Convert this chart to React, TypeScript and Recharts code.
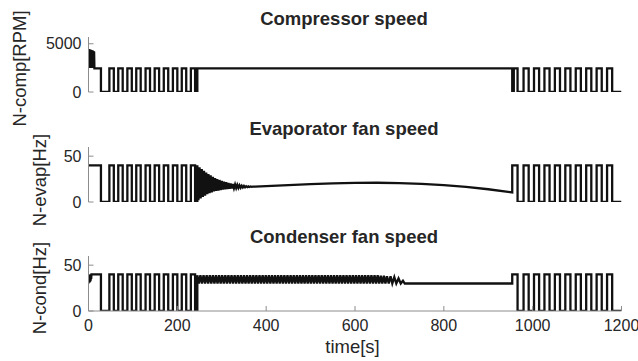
import React from 'react';
import { LineChart, Line, XAxis, YAxis, Label } from 'recharts';

type Pt = [number, number];

// ---------- axes ----------
const timeTicks = [0, 200, 400, 600, 800, 1000, 1200];
const compTicks = [0, 5000];
const fanTicks = [0, 50];
const compMax = 5700;
const fanMax = 60;

// ---------- shared on/off switching schedule (s) ----------
const startOn = [47, 67, 87.5, 107.5, 128.5, 149, 169.5, 190, 210, 230.5];
const startOff = [57, 77, 97.5, 117.5, 138.5, 159, 179.5, 200, 220, 240];
const endOn = [954, 979.5, 1003, 1026.5, 1050, 1073.5, 1097, 1120.5, 1144, 1167.5];
const endOff = [966, 991, 1014.5, 1038, 1061.5, 1085, 1108.5, 1132, 1155.5, 1179];

// ---------- compressor speed [RPM] ----------
const compOn = 2450;
const compRestart = 957.5;
const compStart: Pt[] = [
  [0, 4450], [0.7, 2500], [1.4, 4450], [2.1, 2500], [2.8, 4400], [3.5, 2500], [4.2, 4400],
  [4.9, 2500], [5.6, 4350], [6.3, 2500], [7, 4350], [7.7, 2500], [8.4, 4300], [9.1, 2500],
  [9.8, 4300], [10.5, 2500], [11.2, 4250], [11.9, 2500], [12.6, 4200], [13.3, 2450], [28, 2450],
];

// ---------- evaporator fan speed [Hz] ----------
const fanOn = 40;
const evapStart: Pt[] = [[0, 40], [28, 40]];
const evapDamped: Pt[] = [
  [245, 40], [247.5, 2], [250, 38], [252.5, 4], [255, 36], [257.5, 5.5], [260, 34], [262.5, 7],
  [265, 32], [267.5, 8.5], [270, 30.5], [272.5, 9.5], [275, 29], [277.5, 10.5], [280, 27.5],
  [282.5, 11.5], [285, 26], [287.5, 12], [290, 25], [292.5, 12.5], [295, 24], [297.5, 13],
  [300, 23], [302.5, 13.5], [305, 22.2], [307.5, 13.8], [310, 21.5], [312.5, 14.1], [315, 20.8],
  [317.5, 14.4], [320, 20.2], [322.5, 14.7], [325, 19.6], [327.5, 15], [330, 19.1], [332.5, 15.2],
  [335, 18.6], [337.5, 15.4], [340, 18.2], [342.5, 15.6], [345, 17.8], [347.5, 15.8], [350, 17.5],
  [352.5, 16], [355, 17.2], [357.5, 16.2], [360, 17], [362.5, 16.4], [365, 16.9], [367.5, 16.6],
  [370, 16.8], [375, 16.8],
];
const evapDrift: Pt[] = [
  [400, 17.4], [450, 18.5], [500, 19.6], [550, 20.4], [600, 20.9], [650, 21],
  [700, 20.6], [750, 19.7], [800, 18.3], [850, 16.4], [900, 13.9], [954, 10.5],
];

// ---------- condenser fan speed [Hz] ----------
const condStart: Pt[] = [
  [0, 30], [0.6, 39], [1.2, 31], [1.8, 39], [2.4, 31], [3, 39.5], [3.6, 32], [4.2, 40],
  [4.8, 33], [5.4, 40], [6, 35], [6.6, 40], [28, 40],
];
const condWave: Pt[] = [
  [245, 39], [248.5, 30], [252, 39], [255.5, 30], [259, 39], [262.5, 30], [266, 39], [269.5, 30], [273, 39], [276.5, 30],
  [280, 39], [283.5, 30], [287, 39], [290.5, 30], [294, 39], [297.5, 30], [301, 39], [304.5, 30], [308, 39], [311.5, 30],
  [315, 39], [318.5, 30], [322, 39], [325.5, 30], [329, 39], [332.5, 30], [336, 39], [339.5, 30], [343, 39], [346.5, 30],
  [350, 39], [353.5, 30], [357, 39], [360.5, 30], [364, 39], [367.5, 30], [371, 39], [374.5, 30], [378, 39], [381.5, 30],
  [385, 39], [388.5, 30], [392, 39], [395.5, 30], [399, 39], [402.5, 30], [406, 39], [409.5, 30], [413, 39], [416.5, 30],
  [420, 39], [423.5, 30], [427, 39], [430.5, 30], [434, 39], [437.5, 30], [441, 39], [444.5, 30], [448, 39], [451.5, 30],
  [455, 39], [458.5, 30], [462, 39], [465.5, 30], [469, 39], [472.5, 30], [476, 39], [479.5, 30], [483, 39], [486.5, 30],
  [490, 39], [493.5, 30], [497, 39], [500.5, 30], [504, 39], [507.5, 30], [511, 39], [514.5, 30], [518, 39], [521.5, 30],
  [525, 39], [528.5, 30], [532, 39], [535.5, 30], [539, 39], [542.5, 30], [546, 39], [549.5, 30], [553, 39], [556.5, 30],
  [560, 39], [563.5, 30], [567, 39], [570.5, 30], [574, 39], [577.5, 30], [581, 39], [584.5, 30], [588, 39], [591.5, 30],
  [595, 39], [598.5, 30], [602, 39], [605.5, 30], [609, 39], [612.5, 30], [616, 39], [619.5, 30], [623, 39], [626.5, 30],
  [630, 39], [633.5, 30], [637, 39], [640.5, 30], [644, 39], [647.5, 30], [651, 39], [654.5, 30], [658, 38.5], [661.5, 30],
  [665, 38.5], [668.5, 30], [672, 38], [676, 30], [680, 38], [684, 30], [688.5, 37], [693, 30], [698, 35.5], [703, 30],
  [708, 33], [712, 30],
];
const condHold = 30;

// ---------- table building ----------
function pulseTrain(on: number[], off: number[], level: number): Pt[] {
  const out: Pt[] = [];
  on.forEach((t, i) => {
    out.push([t, 0], [t, level], [off[i], level], [off[i], 0]);
  });
  return out;
}
const toRows = (pts: Pt[]) => pts.map(([t, v]) => ({ t, v }));

const compData = toRows([
  ...compStart,
  [28, 0],
  ...pulseTrain(startOn, startOff, compOn),
  [245, 0], [245, compOn], [954, compOn], [954, 0],
  ...pulseTrain([compRestart, ...endOn.slice(1)], endOff, compOn),
  [1200, 0],
]);

const evapData = toRows([
  ...evapStart,
  [28, 0],
  ...pulseTrain(startOn, startOff, fanOn),
  [245, 0],
  ...evapDamped,
  ...evapDrift,
  [endOn[0], fanOn], [endOff[0], fanOn], [endOff[0], 0],
  ...pulseTrain(endOn.slice(1), endOff.slice(1), fanOn),
  [1200, 0],
]);

const condData = toRows([
  ...condStart,
  [28, 0],
  ...pulseTrain(startOn, startOff, fanOn),
  [245, 0],
  ...condWave,
  [endOn[0], condHold], [endOn[0], fanOn], [endOff[0], fanOn], [endOff[0], 0],
  ...pulseTrain(endOn.slice(1), endOff.slice(1), fanOn),
  [1200, 0],
]);

// ---------- styling ----------
const AXIS = '#8c8c8c';
const TEXT = '#262626';
const LINE = '#111111';
const FONT = "'Liberation Sans', Arial, Helvetica, sans-serif";
const W = 638;
const H = 361;

type PanelProps = {
  data: { t: number; v: number }[];
  mTop: number;
  mBottom: number;
  yMax: number;
  yTicks: number[];
  label: string;
  labelX: number;
  labelY: number;
  bottom?: boolean;
};

function Panel({ data, mTop, mBottom, yMax, yTicks, label, labelX, labelY, bottom }: PanelProps) {
  return (
    <div style={{ position: 'absolute', left: 0, top: 0 }}>
      <LineChart width={W} height={H} margin={{ top: mTop, right: 16.5, bottom: mBottom, left: 28.5 }}>
        <XAxis
          type="number"
          dataKey="t"
          domain={[0, 1200]}
          ticks={timeTicks}
          interval={0}
          allowDataOverflow
          height={bottom ? 30 : 0}
          tick={bottom ? { fill: TEXT, fontSize: 16, fontFamily: FONT } : false}
          tickSize={-5}
          tickMargin={14}
          axisLine={{ stroke: AXIS, strokeWidth: 1 }}
          tickLine={{ stroke: AXIS, strokeWidth: 1 }}
        >
          {bottom ? (
            <Label
              content={() => (
                <text x={352.5} y={352.5} textAnchor="middle" fill={TEXT} fontSize={18.5} fontFamily={FONT}>
                  time[s]
                </text>
              )}
            />
          ) : null}
        </XAxis>
        <YAxis
          type="number"
          domain={[0, yMax]}
          ticks={yTicks}
          interval={0}
          width={60}
          allowDataOverflow
          tick={{ fill: TEXT, fontSize: 16, fontFamily: FONT }}
          tickSize={-5}
          tickMargin={12}
          axisLine={{ stroke: AXIS, strokeWidth: 1 }}
          tickLine={{ stroke: AXIS, strokeWidth: 1 }}
        >
          <Label
            content={() => (
              <text
                x={labelX}
                y={labelY}
                transform={`rotate(-90 ${labelX} ${labelY})`}
                textAnchor="middle"
                dominantBaseline="central"
                fill={TEXT}
                fontSize={18.5}
                fontFamily={FONT}
              >
                {label}
              </text>
            )}
          />
        </YAxis>
        <Line
          data={data}
          dataKey="v"
          type="linear"
          stroke={LINE}
          strokeWidth={2.3}
          dot={false}
          activeDot={false}
          isAnimationActive={false}
        />
      </LineChart>
    </div>
  );
}

const titles = [
  { text: 'Compressor speed', y: 25 },
  { text: 'Evaporator fan speed', y: 135 },
  { text: 'Condenser fan speed', y: 243 },
];

export default function App() {
  return (
    <div style={{ position: 'absolute', left: 0, top: 0, width: W, height: H, background: '#fff', overflow: 'hidden' }}>
      <Panel data={compData} mTop={37} mBottom={269} yMax={compMax} yTicks={compTicks} label="N-comp[RPM]" labelX={19} labelY={68.5} />
      <Panel data={evapData} mTop={147} mBottom={159} yMax={fanMax} yTicks={fanTicks} label="N-evap[Hz]" labelX={39.5} labelY={180} />
      <Panel data={condData} mTop={256} mBottom={20} yMax={fanMax} yTicks={fanTicks} label="N-cond[Hz]" labelX={39.5} labelY={288} bottom />
      <svg width={W} height={H} style={{ position: 'absolute', left: 0, top: 0, pointerEvents: 'none' }}>
        {titles.map((t) => (
          <text key={t.text} x={344} y={t.y} textAnchor="middle" fontWeight="bold" fill={TEXT} fontSize={18.5} fontFamily={FONT}>
            {t.text}
          </text>
        ))}
      </svg>
    </div>
  );
}
